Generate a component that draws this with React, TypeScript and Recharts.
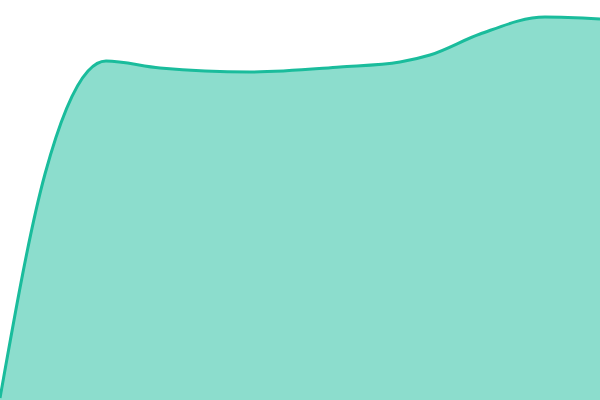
import { Area, AreaChart, XAxis, YAxis } from 'recharts'

// positions along the series and their values
const steps = [0, 45, 88, 106, 160, 250, 340, 400, 430, 480, 545, 600]
const values = [2, 226, 329, 339, 332, 328, 333, 338, 345, 366, 383, 381]

const data = steps.map((step, i) => ({ step, value: values[i] }))

export default function App() {
  return (
    <div style={{ position: 'fixed', left: 0, top: 0, width: 600, height: 400 }}>
      <AreaChart width={600} height={400} data={data} margin={{ top: 0, right: 0, bottom: 0, left: 0 }}>
        <XAxis dataKey="step" type="number" domain={[0, 600]} hide />
        <YAxis domain={[0, 400]} hide />
        <Area
          type="monotone"
          dataKey="value"
          stroke="#1abc9c"
          strokeWidth={3}
          fill="#1abc9c"
          fillOpacity={0.5}
          dot={false}
          activeDot={false}
          isAnimationActive={false}
        />
      </AreaChart>
    </div>
  )
}
